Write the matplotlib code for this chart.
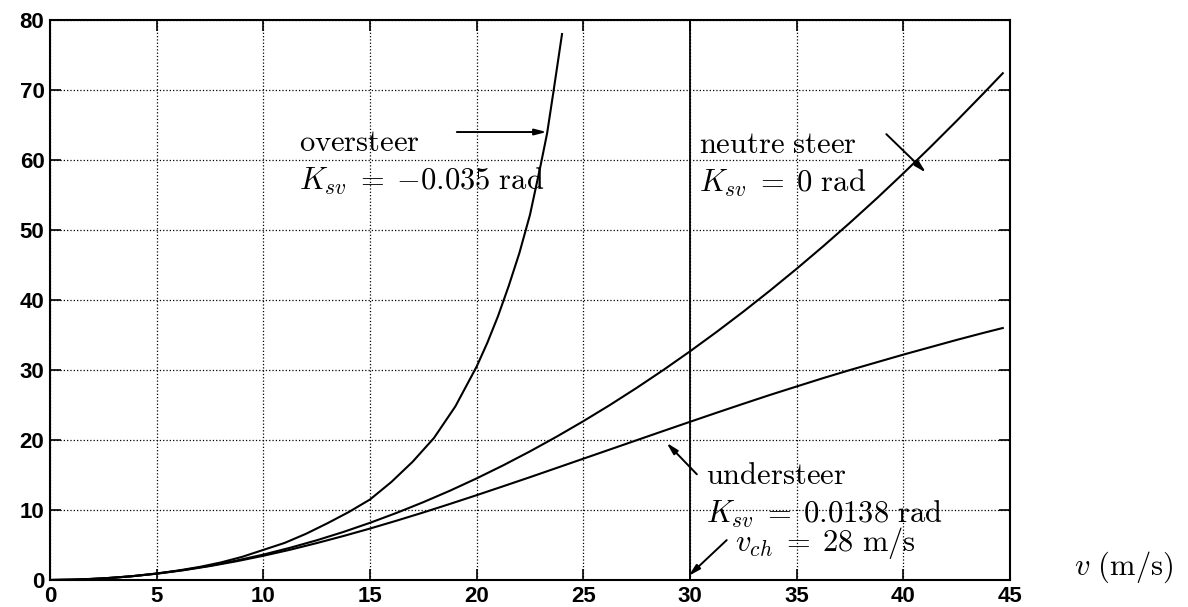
import matplotlib
matplotlib.use("Agg")
import matplotlib.pyplot as plt

plt.rcParams['mathtext.fontset'] = 'cm'

# snelheid (m/s)
v = [0, 1.25, 2.5, 3.75, 5, 6.25, 7.5, 8.75, 10, 11.25, 12.5, 13.75, 15,
     16.25, 17.5, 18.75, 20, 21.25, 22.5, 23.75, 25, 26.25, 27.5, 28.75,
     30, 31.25, 32.5, 33.75, 35, 36.25, 37.5, 38.75, 40, 41.25, 42.5,
     43.75, 44.66]
v_over = [0, 1, 2, 3, 4, 5, 6, 7, 8, 9, 10, 11, 12, 13, 14, 15, 16, 17,
          18, 19, 20, 20.5, 21, 21.5, 22, 22.5, 23, 23.3, 23.6, 24]

neutral = [0, 0.06, 0.23, 0.51, 0.91, 1.42, 2.04, 2.78, 3.63, 4.6, 5.67,
           6.86, 8.17, 9.59, 11.12, 12.76, 14.52, 16.39, 18.38, 20.48,
           22.69, 25.01, 27.45, 30.0, 32.67, 35.45, 38.34, 41.35, 44.47,
           47.7, 51.05, 54.51, 58.1, 61.8, 65.6, 69.5, 72.4]
understeer = [0, 0.06, 0.23, 0.51, 0.9, 1.39, 1.99, 2.68, 3.46, 4.32,
              5.27, 6.28, 7.35, 8.48, 9.65, 10.87, 12.12, 13.4, 14.69,
              16.01, 17.33, 18.65, 19.97, 21.29, 22.6, 23.9, 25.18, 26.44,
              27.65, 28.85, 30.0, 31.1, 32.2, 33.25, 34.3, 35.3, 36.0]
oversteer = [0, 0.04, 0.15, 0.33, 0.59, 0.93, 1.35, 1.86, 2.5, 3.3, 4.3,
             5.3, 6.6, 8.1, 9.7, 11.5, 14.0, 16.9, 20.3, 24.8, 30.5, 33.9,
             37.7, 42.0, 46.7, 52.2, 59.3, 63.8, 69.8, 78.0]

xticks = list(range(0, 50, 5))
yticks = list(range(0, 90, 10))

fig = plt.figure(figsize=(11.88, 6.07), dpi=100)
ax = fig.add_axes([0.0421, 0.0445, 0.8081, 0.9225])

lw = 1.5
ax.plot(v_over, oversteer, color='k', lw=lw)
ax.plot(v, neutral, color='k', lw=lw)
ax.plot(v, understeer, color='k', lw=lw)
ax.axvline(30, color='k', lw=1.3)

ax.set_xlim(0, 45)
ax.set_ylim(0, 80)
ax.set_xticks(xticks)
ax.set_yticks(yticks)
ax.grid(True, linestyle=':', color='k', lw=0.9)
ax.tick_params(direction='in', length=8, width=1.2, top=True, right=True,
               labeltop=False, labelright=False, pad=4)
for lab in ax.get_xticklabels() + ax.get_yticklabels():
    lab.set_fontfamily('Liberation Sans')
    lab.set_fontweight('bold')
    lab.set_fontsize(16)
for s in ax.spines.values():
    s.set_linewidth(1.5)

fs = 22
txt = dict(fontsize=fs, va='baseline', ha='left')
ax.text(11.67, 61.3, r'$\mathrm{oversteer}$', **txt)
ax.text(11.67, 55.8, r'$K_{sv}\;=\;{-}0.035\ \mathrm{rad}$', **txt)
ax.text(30.44, 61.0, r'$\mathrm{neutre\ steer}$', **txt)
ax.text(30.44, 55.5, r'$K_{sv}\;=\;0\ \mathrm{rad}$', **txt)
ax.text(30.75, 13.7, r'$\mathrm{understeer}$', **txt)
ax.text(30.75, 8.2, r'$K_{sv}\;=\;0.0138\ \mathrm{rad}$', **txt)
ax.text(32.1, 4.1, r'$v_{ch}\;=\;28\ \mathrm{m/s}$', **txt)
ax.text(48.0, 0.8, r'$v\ \mathrm{(m/s)}$', clip_on=False, **txt)

arrow = dict(arrowstyle='-|>,head_length=0.7,head_width=0.18', color='k',
             lw=1.4, shrinkA=0, shrinkB=0)
ax.annotate('', xy=(23.28, 64.0), xytext=(19.07, 64.0), arrowprops=arrow)
ax.annotate('', xy=(41.06, 58.2), xytext=(39.2, 63.7), arrowprops=arrow)
ax.annotate('', xy=(28.9, 19.6), xytext=(30.32, 15.1), arrowprops=arrow)
ax.annotate('', xy=(29.93, 0.57), xytext=(31.72, 5.7), arrowprops=arrow)

fig.savefig('out.png', dpi=100)
